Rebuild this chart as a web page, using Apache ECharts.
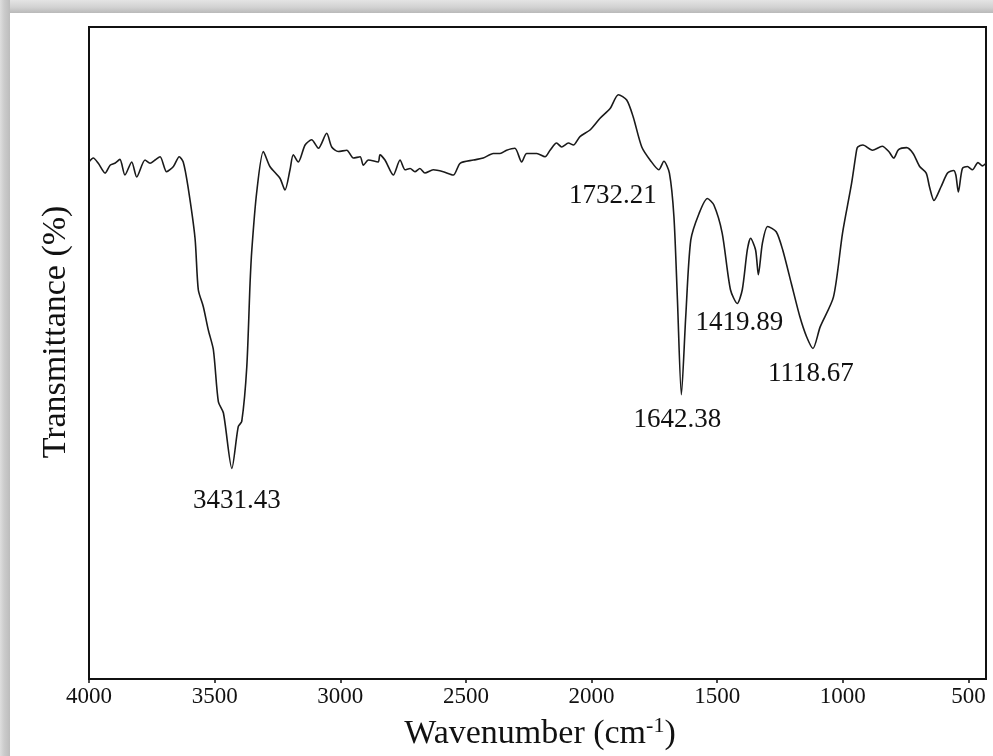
<!DOCTYPE html>
<html>
<head>
<meta charset="utf-8">
<title>FTIR spectrum</title>
<script src="https://cdn.jsdelivr.net/npm/echarts@6/dist/echarts.min.js"></script>
<style>
  html, body { margin: 0; padding: 0; background: #ffffff; }
  #chart { width: 993px; height: 756px; }
</style>
</head>
<body>
<div id="chart"></div>
<script>
// FTIR spectrum: wavenumber (cm-1) and transmittance (arbitrary %, axis unlabelled)
const wavenumber = [
  4000, 3983, 3963, 3936, 3916, 3897, 3877, 3857, 3830, 3810,
  3777, 3757, 3737, 3717, 3691, 3664, 3641, 3625, 3606, 3578,
  3565, 3545, 3525, 3505, 3485, 3465, 3431.43, 3406, 3392, 3372,
  3359, 3352, 3333, 3306, 3280, 3240, 3220, 3200, 3187, 3167,
  3140, 3114, 3087, 3054, 3034, 3008, 2974, 2948, 2921, 2908,
  2888, 2849, 2842, 2822, 2789, 2762, 2742, 2722, 2703, 2683,
  2663, 2630, 2590, 2550, 2523, 2470, 2431, 2391, 2364, 2338,
  2305, 2278, 2258, 2218, 2185, 2165, 2139, 2119, 2092, 2072,
  2046, 2006, 1966, 1926, 1893, 1860, 1834, 1800, 1765, 1732.21,
  1712, 1690, 1672, 1658, 1642.38, 1625, 1605, 1572, 1539, 1513,
  1480, 1447, 1419.89, 1400, 1380, 1367, 1347, 1336, 1320, 1299,
  1265, 1239, 1205, 1171, 1144, 1118.67, 1090, 1037, 1001, 965,
  945, 940, 920, 882, 843, 817, 797, 778, 746, 720,
  694, 668, 655, 637, 609, 583, 559, 550, 540, 524,
  504, 484, 462, 444, 430
];
const transmittance = [
  79.3, 79.9, 79.1, 77.6, 78.8, 79.1, 79.7, 77.3, 79.3, 77.0,
  79.6, 79.1, 79.6, 80.1, 77.8, 78.6, 80.1, 79.3, 75.5, 67.6,
  59.7, 57.1, 53.5, 50.5, 42.5, 40.8, 32.3, 38.7, 39.5, 47.9,
  60.7, 65.8, 74.5, 80.9, 78.6, 76.8, 75.0, 78.1, 80.4, 79.3,
  81.9, 82.7, 81.4, 83.7, 81.6, 80.9, 81.1, 79.9, 80.1, 78.8,
  79.6, 79.3, 80.4, 79.6, 77.3, 79.6, 78.1, 78.3, 77.8, 78.3,
  77.6, 78.1, 77.8, 77.3, 79.1, 79.6, 79.9, 80.6, 80.6, 81.1,
  81.4, 79.3, 80.6, 80.6, 80.1, 81.1, 82.2, 81.6, 82.2, 81.9,
  83.2, 84.2, 86.0, 87.5, 89.6, 88.8, 86.2, 81.6, 79.5, 78.1,
  79.4, 77.6, 70.9, 58.1, 43.6, 55.6, 67.3, 71.4, 73.7, 72.7,
  68.4, 59.7, 57.6, 59.7, 65.8, 67.6, 65.8, 62.0, 66.8, 69.4,
  68.6, 65.8, 60.7, 55.6, 52.5, 50.7, 54.0, 58.6, 68.4, 76.0,
  81.1, 81.6, 81.9, 81.1, 81.7, 80.9, 79.9, 81.2, 81.5, 80.6,
  78.6, 77.6, 75.5, 73.4, 75.5, 77.6, 78.0, 77.3, 74.7, 78.3,
  78.6, 78.1, 79.2, 78.7, 79.1
];
// Annotated absorption bands
const peakWavenumbers = [3431.43, 1732.21, 1642.38, 1419.89, 1118.67];
// Tick values on the wavenumber axis
const xTicks = [4000, 3500, 3000, 2500, 2000, 1500, 1000, 500];

// label placement relative to each band minimum (px)
const peakLabelOffsets = [[5, 33], [-46, 26], [-4, 25], [2, 19], [-2, 25]];

const SERIF = '"Liberation Serif", "Times New Roman", Times, serif';
const INK = '#111111';

const spectrum = wavenumber.map((w, i) => [w, transmittance[i]]);
const peaks = peakWavenumbers.map((w, i) => ({
  value: [w, transmittance[wavenumber.indexOf(w)]],
  label: { offset: peakLabelOffsets[i] }
}));

const chart = echarts.init(document.getElementById('chart'), null, { renderer: 'canvas' });

chart.setOption({
  animation: false,
  backgroundColor: '#ffffff',
  grid: {
    left: 89, right: 7, top: 27, bottom: 77,
    show: true,
    borderColor: INK,
    borderWidth: 2,
    backgroundColor: 'transparent'
  },
  xAxis: {
    type: 'value',
    min: 430,
    max: 4000,
    inverse: true,
    axisLine: { show: true, onZero: false, lineStyle: { color: INK, width: 2 } },
    axisTick: { show: true, length: 4, inside: false, customValues: xTicks, lineStyle: { color: INK, width: 1.5 } },
    axisLabel: {
      show: true, customValues: xTicks, margin: 6,
      formatter: v => String(v),
      fontFamily: SERIF, fontSize: 23, color: INK
    },
    splitLine: { show: false }
  },
  yAxis: {
    type: 'value',
    min: 0,
    max: 100,
    axisLine: { show: true, lineStyle: { color: INK, width: 2 } },
    axisTick: { show: false },
    axisLabel: { show: false },
    splitLine: { show: false }
  },
  series: [
    {
      type: 'line',
      data: spectrum,
      smooth: 0.25,
      symbol: 'none',
      lineStyle: { color: '#1a1a1a', width: 1.6 }
    },
    {
      type: 'scatter',
      data: peaks,
      symbolSize: 0,
      silent: true,
      itemStyle: { color: INK, opacity: 1 },
      label: {
        show: true,
        position: 'inside',
        formatter: p => p.value[0].toFixed(2),
        fontFamily: SERIF,
        fontSize: 27,
        color: INK,
        opacity: 1,
        textBorderWidth: 0,
        textShadowBlur: 0,
        align: 'center',
        verticalAlign: 'middle'
      },
      emphasis: { disabled: true }
    }
  ],
  graphic: [
    // soft grey frame along the top and left edges
    {
      type: 'rect', left: 0, top: 0, z: 100,
      shape: { width: 993, height: 13 },
      style: {
        fill: new echarts.graphic.LinearGradient(0, 0, 0, 1, [
          { offset: 0, color: '#e4e4e4' },
          { offset: 0.55, color: '#d2d2d2' },
          { offset: 1, color: '#b9b9b9' }
        ])
      }
    },
    {
      type: 'rect', left: 0, top: 0, z: 100,
      shape: { width: 10, height: 756 },
      style: {
        fill: new echarts.graphic.LinearGradient(0, 0, 1, 0, [
          { offset: 0, color: '#dedede' },
          { offset: 0.4, color: '#cccccc' },
          { offset: 1, color: '#bcbcbc' }
        ])
      }
    },
    {
      type: 'text', z: 100,
      x: 56, y: 332, rotation: Math.PI / 2,
      style: {
        text: 'Transmittance (%)',
        fontFamily: SERIF, fontSize: 34, fill: INK,
        align: 'center', verticalAlign: 'middle'
      }
    },
    {
      type: 'text', z: 100,
      x: 540, y: 734,
      style: {
        text: '{a|Wavenumber (cm}{s|-1}{a|)}',
        align: 'center', verticalAlign: 'middle',
        fill: INK,
        rich: {
          a: { fontFamily: SERIF, fontSize: 34, fill: INK, lineHeight: 38 },
          s: { fontFamily: SERIF, fontSize: 22, fill: INK, verticalAlign: 'top', lineHeight: 38 }
        }
      }
    }
  ]
});
</script>
</body>
</html>
